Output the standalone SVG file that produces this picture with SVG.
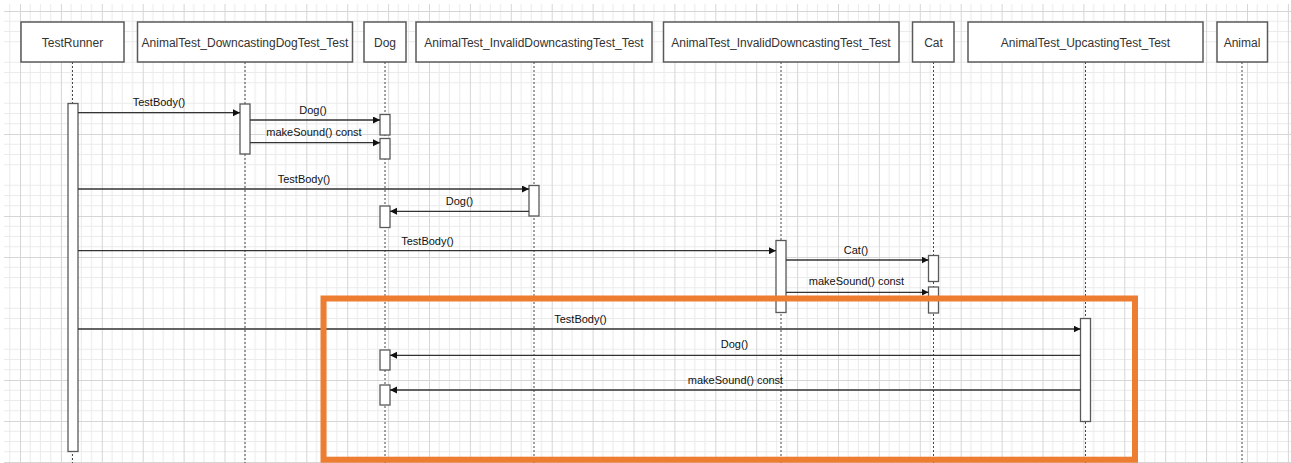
<svg xmlns="http://www.w3.org/2000/svg" width="1291" height="463" viewBox="0 0 1291 463">
<style>
.box{fill:#fff;stroke:#5a5a5a;stroke-width:1.5}
.hdr{font-family:"Liberation Sans",Arial,sans-serif;font-size:12px;fill:#333;text-anchor:middle}
.life{stroke:#444;stroke-width:1;stroke-dasharray:2,2;fill:none}
.act{fill:#fff;stroke:#5a5a5a;stroke-width:1.3}
.msg{stroke:#333;stroke-width:1.3;fill:none;marker-end:url(#arr)}
.lbl{font-family:"Liberation Sans",Arial,sans-serif;font-size:11px;fill:#111;text-anchor:middle}
</style>
<defs>
<marker id="arr" markerUnits="userSpaceOnUse" markerWidth="8" markerHeight="8" refX="7" refY="3.5" orient="auto">
<path d="M0,0 L7,3.5 L0,7 z" fill="#111"/>
</marker>
<pattern id="grid" patternUnits="userSpaceOnUse" x="20" y="11" width="40.9" height="41">
<rect width="40.9" height="41" fill="#fff"/>
<path d="M10.225,0V41M20.45,0V41M30.675,0V41M0,10.25H40.9M0,20.5H40.9M0,30.75H40.9" stroke="#ebebeb" stroke-width="1"/>
<path d="M0.5,0V41M0,0.5H40.9" stroke="#d6d6d6" stroke-width="1"/>
</pattern>
</defs>
<rect width="1291" height="463" fill="#fff"/>
<rect x="4" y="4" width="1287" height="459" fill="url(#grid)"/>

<g id="lifelines">
<line class="life" x1="72.5" y1="62" x2="72.5" y2="463"/>
<line class="life" x1="245" y1="62" x2="245" y2="463"/>
<line class="life" x1="385" y1="62" x2="385" y2="463"/>
<line class="life" x1="534" y1="62" x2="534" y2="463"/>
<line class="life" x1="781" y1="62" x2="781" y2="463"/>
<line class="life" x1="933.5" y1="62" x2="933.5" y2="463"/>
<line class="life" x1="1085.5" y1="62" x2="1085.5" y2="463"/>
<line class="life" x1="1242" y1="62" x2="1242" y2="463"/>
</g>

<g id="TestRunner">
<rect class="box" x="21" y="22" width="103" height="40"/>
<text class="hdr" x="72.5" y="46.5">TestRunner</text>
<rect class="act" x="68" y="103.5" width="10" height="348"/>
</g>
<g id="DowncastingDogTest">
<rect class="box" x="137.5" y="22" width="215" height="40"/>
<text class="hdr" x="245" y="46.5">AnimalTest_DowncastingDogTest_Test</text>
<rect class="act" x="240" y="104" width="10" height="50"/>
</g>
<g id="Dog">
<rect class="box" x="364" y="22" width="42" height="40"/>
<text class="hdr" x="385" y="46.5">Dog</text>
<rect class="act" x="380" y="114.5" width="10" height="20.5"/>
<rect class="act" x="380" y="138.5" width="10" height="20.5"/>
<rect class="act" x="380" y="206" width="10" height="21.5"/>
<rect class="act" x="380" y="350" width="10" height="20"/>
<rect class="act" x="380" y="385" width="10" height="20"/>
</g>
<g id="InvalidDowncastingTest1">
<rect class="box" x="416" y="22" width="236" height="40"/>
<text class="hdr" x="534" y="46.5">AnimalTest_InvalidDowncastingTest_Test</text>
<rect class="act" x="529" y="185.5" width="10" height="30.5"/>
</g>
<g id="InvalidDowncastingTest2">
<rect class="box" x="663.5" y="22" width="235.5" height="40"/>
<text class="hdr" x="781" y="46.5">AnimalTest_InvalidDowncastingTest_Test</text>
<rect class="act" x="776" y="240.5" width="10" height="72"/>
</g>
<g id="Cat">
<rect class="box" x="912.5" y="22" width="41.5" height="40"/>
<text class="hdr" x="933.5" y="46.5">Cat</text>
<rect class="act" x="928.5" y="255.5" width="10" height="26"/>
<rect class="act" x="928.5" y="287" width="10" height="26"/>
</g>
<g id="UpcastingTest">
<rect class="box" x="968" y="22" width="235" height="40"/>
<text class="hdr" x="1085.5" y="46.5">AnimalTest_UpcastingTest_Test</text>
<rect class="act" x="1080.5" y="318.5" width="10" height="103"/>
</g>
<g id="Animal">
<rect class="box" x="1217" y="22" width="50.5" height="40"/>
<text class="hdr" x="1242" y="46.5">Animal</text>
</g>

<g id="connectors">
<line class="msg" x1="78" y1="112.7" x2="240" y2="112.7"/>
<text class="lbl" x="159" y="105.5">TestBody()</text>
<line class="msg" x1="250" y1="120" x2="380" y2="120"/>
<text class="lbl" x="313" y="113.8">Dog()</text>
<line class="msg" x1="250" y1="142.7" x2="380" y2="142.7"/>
<text class="lbl" x="314" y="136">makeSound() const</text>

<line class="msg" x1="78" y1="189" x2="529" y2="189"/>
<text class="lbl" x="304" y="183">TestBody()</text>
<line class="msg" x1="529" y1="211.3" x2="390" y2="211.3"/>
<text class="lbl" x="459.5" y="204.5">Dog()</text>

<line class="msg" x1="78" y1="250.7" x2="776" y2="250.7"/>
<text class="lbl" x="427.5" y="244.5">TestBody()</text>
<line class="msg" x1="786" y1="260" x2="928.5" y2="260"/>
<text class="lbl" x="856" y="253.8">Cat()</text>
<line class="msg" x1="786" y1="292.3" x2="928.5" y2="292.3"/>
<text class="lbl" x="856.5" y="285">makeSound() const</text>

<line class="msg" x1="78" y1="329" x2="1080.5" y2="329"/>
<text class="lbl" x="580.5" y="323">TestBody()</text>
<line class="msg" x1="1080.5" y1="355.3" x2="390" y2="355.3"/>
<text class="lbl" x="734.5" y="348">Dog()</text>
<line class="msg" x1="1080.5" y1="390" x2="390" y2="390"/>
<text class="lbl" x="735.5" y="383.8">makeSound() const</text>
</g>

<g id="highlight">
<rect x="323.5" y="298.5" width="811.5" height="161.2" fill="none" stroke="#ED7D31" stroke-width="6"/>
</g>
</svg>
